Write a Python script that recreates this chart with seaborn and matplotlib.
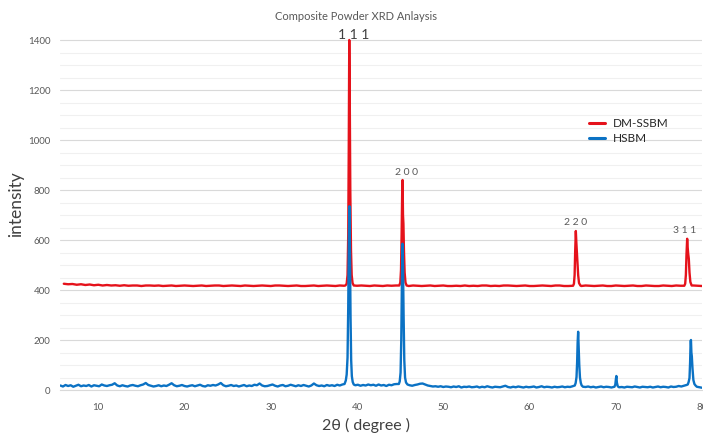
import numpy as np
import pandas as pd
import matplotlib
matplotlib.use("Agg")
import matplotlib.pyplot as plt
from matplotlib.lines import Line2D
from matplotlib.ticker import MultipleLocator
import seaborn as sns

# ---------------------------------------------------------------------------
# Data
# ---------------------------------------------------------------------------
series_names = ["DM-SSBM", "HSBM"]

# DM-SSBM background scan, one reading every 0.5 deg from 6.0 to 80.0 deg
dm_scan_start, dm_scan_step = 6.0, 0.5
dm_scan_counts = [
    425, 423, 424, 421, 423, 420, 422, 419, 421, 418,
    420, 418, 419, 417, 419, 417, 418, 418, 416, 418,
    418, 417, 418, 416, 417, 418, 416, 417, 418, 417,
    416, 417, 418, 416, 417, 418, 418, 416, 417, 418,
    417, 416, 418, 417, 416, 417, 418, 417, 416, 418,
    418, 417, 416, 417, 418, 416, 416, 417, 418, 416,
    417, 418, 417, 416, 418, 417, 416, 418, 417, 418,
    417, 416, 418, 417, 416, 418, 417, 418, 417, 418,
    416, 418, 417, 416, 417, 418, 416, 417, 418, 416,
    416, 417, 416, 418, 416, 417, 416, 418, 418, 416,
    417, 416, 418, 418, 417, 416, 417, 418, 416, 416,
    417, 418, 417, 416, 418, 418, 416, 416, 417, 418,
    416, 418, 417, 416, 417, 418, 416, 416, 418, 417,
    416, 417, 418, 416, 416, 418, 417, 416, 416, 418,
    417, 416, 418, 417, 416, 417, 418, 417, 416,
]
# DM-SSBM reflections: 2θ (deg) and counts across each peak
dm_peak_2theta = [
    38.65, 38.80, 38.90, 38.98, 39.04, 39.10, 39.16, 39.22, 39.30, 39.38, 39.48, 39.62,
    44.90, 45.02, 45.10, 45.17, 45.24, 45.28, 45.33, 45.38, 45.44, 45.52, 45.62, 45.75,
    65.05, 65.15, 65.23, 65.30, 65.37, 65.43, 65.49, 65.56, 65.64, 65.74, 65.90,
    77.95, 78.05, 78.13, 78.20, 78.28, 78.34, 78.40, 78.47, 78.55, 78.65, 78.80,
]
dm_peak_counts = [
    418, 425, 460, 620, 950, 1400, 1150, 800, 560, 460, 428, 418,
    418, 430, 480, 620, 800, 840, 700, 665, 560, 470, 430, 418,
    417, 425, 460, 560, 636, 590, 555, 520, 460, 428, 418,
    417, 425, 460, 540, 605, 570, 545, 525, 470, 432, 418,
]
dm_peak_ranges = [(38.6, 39.7), (44.85, 45.8), (65.0, 65.95), (77.9, 78.85)]

# HSBM background scan, one reading every 0.3 deg from 5.6 to 80.0 deg
hsbm_scan_start, hsbm_scan_step = 5.6, 0.3
hsbm_scan_counts = [
    18, 14, 20, 16, 19, 13, 17, 21, 15, 18,
    16, 20, 14, 19, 17, 15, 22, 18, 16, 19,
    21, 27, 18, 15, 19, 16, 14, 18, 20, 17,
    15, 19, 22, 28, 20, 17, 14, 16, 19, 15,
    18, 16, 21, 27, 19, 15, 17, 20, 16, 14,
    17, 19, 15, 18, 21, 16, 14, 19, 17, 20,
    18, 22, 28, 19, 15, 17, 20, 16, 18, 14,
    17, 20, 15, 18, 16, 21, 19, 26, 18, 15,
    16, 19, 22, 17, 14, 18, 20, 15, 17, 21,
    18, 15, 19, 16, 20, 17, 14, 18, 26, 19,
    16, 18, 15, 20, 17, 19, 16, 21, 18, 22,
    26, 20, 20, 22, 19, 21, 17, 20, 18, 22,
    19, 21, 17, 22, 18, 20, 16, 21, 19, 23,
    24, 20, 20, 22, 18, 19, 17, 20, 22, 25,
    26, 22, 18, 16, 14, 15, 13, 15, 12, 14,
    13, 11, 14, 12, 15, 10, 13, 12, 14, 11,
    12, 14, 10, 13, 11, 15, 12, 10, 13, 12,
    11, 14, 17, 12, 10, 13, 11, 14, 12, 10,
    13, 11, 12, 14, 10, 12, 15, 11, 13, 12,
    10, 13, 11, 12, 14, 11, 13, 12, 15, 20,
    20, 16, 13, 12, 14, 11, 13, 10, 12, 14,
    11, 13, 12, 10, 14, 13, 11, 12, 10, 13,
    12, 11, 14, 12, 10, 13, 12, 11, 13, 10,
    12, 14, 11, 13, 12, 10, 14, 12, 13, 16,
    14, 17, 20, 30, 30, 18, 13, 11, 9,
]
# HSBM reflections: 2θ (deg) and counts across each peak
hsbm_peak_2theta = [
    38.55, 38.70, 38.80, 38.90, 38.98, 39.05, 39.12, 39.18, 39.25, 39.32, 39.40, 39.50, 39.62,
    44.85, 44.95, 45.05, 45.13, 45.20, 45.27, 45.33, 45.40, 45.48, 45.57, 45.68, 45.85,
    65.25, 65.35, 65.45, 65.52, 65.58, 65.64, 65.70, 65.77, 65.85, 65.95, 66.05,
    69.85, 69.95, 70.02, 70.07, 70.13, 70.22, 70.32,
    78.35, 78.45, 78.55, 78.62, 78.68, 78.72, 78.77, 78.82, 78.90, 79.00, 79.12, 79.25,
]
hsbm_peak_counts = [
    24, 38, 62, 130, 330, 600, 735, 560, 290, 120, 55, 32, 22,
    24, 34, 70, 200, 420, 585, 500, 300, 120, 50, 30, 22,
    18, 28, 52, 110, 190, 233, 175, 100, 50, 28, 18,
    13, 22, 45, 56, 30, 16, 12,
    22, 32, 48, 110, 195, 200, 150, 135, 85, 40, 24, 18,
]
hsbm_peak_ranges = [(38.5, 39.7), (44.8, 45.9), (65.2, 66.1), (69.8, 70.35), (78.3, 79.3)]

# Miller indices written over the DM-SSBM reflections
hkl_labels = ["1 1 1", "2 0 0", "2 2 0", "3 1 1"]
hkl_2theta = [39.10, 45.28, 65.37, 78.28]
hkl_counts = [1400, 840, 636, 605]

y_ticks = [0, 200, 400, 600, 800, 1000, 1200, 1400]
x_ticks = [10, 20, 30, 40, 50, 60, 70, 80]

colors = {"DM-SSBM": "#e5121b", "HSBM": "#0b72c4"}


def build_pattern(start, step, scan, peak_x, peak_y, ranges):
    """Combine the background scan with the peak readings, sorted by 2θ."""
    scan_x = np.round(start + step * np.arange(len(scan)), 2)
    scan_y = np.asarray(scan, dtype=float)
    keep = np.ones(len(scan_x), dtype=bool)
    for lo, hi in ranges:
        keep &= ~((scan_x >= lo) & (scan_x <= hi))
    x = np.concatenate([scan_x[keep], peak_x])
    y = np.concatenate([scan_y[keep], peak_y])
    order = np.argsort(x)
    return x[order], y[order]


dm_x, dm_y = build_pattern(dm_scan_start, dm_scan_step, dm_scan_counts,
                           dm_peak_2theta, dm_peak_counts, dm_peak_ranges)
hs_x, hs_y = build_pattern(hsbm_scan_start, hsbm_scan_step, hsbm_scan_counts,
                           hsbm_peak_2theta, hsbm_peak_counts, hsbm_peak_ranges)

df = pd.concat([
    pd.DataFrame({"two_theta": dm_x, "intensity": dm_y, "sample": "DM-SSBM"}),
    pd.DataFrame({"two_theta": hs_x, "intensity": hs_y, "sample": "HSBM"}),
], ignore_index=True)

# ---------------------------------------------------------------------------
# Plot
# ---------------------------------------------------------------------------
sns.set_theme(style="white")
plt.rcParams["font.family"] = ["Lato", "DejaVu Sans"]

W, H = 703, 438
fig, ax = plt.subplots(figsize=(W / 100, H / 100), dpi=100)
fig.subplots_adjust(left=60 / W, right=702 / W, bottom=48 / H, top=(H - 37.5) / H)

sns.lineplot(data=df, x="two_theta", y="intensity", hue="sample",
             hue_order=series_names, palette=colors, estimator=None,
             sort=False, linewidth=1.7, legend=False, ax=ax)

ax.set_xlim(5.56, 80)
ax.set_ylim(0, 1410)
ax.set_xticks(x_ticks)
ax.set_yticks(y_ticks)
ax.yaxis.set_minor_locator(MultipleLocator(50))
ax.grid(which="major", axis="y", color="#d9d9d9", linewidth=0.8)
ax.grid(which="minor", axis="y", color="#f0f0f0", linewidth=0.8)
ax.grid(which="major", axis="x", visible=False)
ax.set_axisbelow(True)
for side in ("top", "right", "left"):
    ax.spines[side].set_visible(False)
ax.spines["bottom"].set_color("#d9d9d9")
ax.spines["bottom"].set_linewidth(0.8)
ax.tick_params(axis="both", which="both", length=0, labelsize=7,
               labelcolor="#595959")
ax.tick_params(axis="y", pad=7)
ax.tick_params(axis="x", pad=9)

ax.set_xlabel("2θ ( degree )", fontsize=11.5, color="#404040")
ax.set_ylabel("intensity", fontsize=12.5, color="#404040")
ax.xaxis.set_label_coords((366 - 60) / 642, -(418 - 390) / 352.5)
ax.yaxis.set_label_coords((24 - 60) / 642, (390 - 204) / 352.5)

fig.text(356 / W, 1 - 17 / H, "Composite Powder XRD Anlaysis", ha="center",
         va="center", fontsize=8, color="#595959")

# Miller index labels
offsets = [(4, -1), (4, 3), (0, 4), (-3, 4)]
sizes = [10, 7.5, 7.5, 7.5]
tcolors = ["#404040", "#595959", "#595959", "#595959"]
for lab, xv, yv, off, fs, tc in zip(hkl_labels, hkl_2theta, hkl_counts,
                                    offsets, sizes, tcolors):
    ax.annotate(lab, xy=(xv, yv), xytext=off, textcoords="offset pixels",
                ha="center", va="bottom", fontsize=fs, color=tc,
                annotation_clip=False)

handles = [Line2D([], [], color=colors[n], linewidth=2.2) for n in series_names]
ax.legend(handles, series_names, loc="upper left",
          bbox_to_anchor=(589 / W, 1 - 118 / H), bbox_transform=fig.transFigure,
          frameon=False, fontsize=8.5, handlelength=1.35, handletextpad=0.7,
          labelspacing=0.33, borderpad=0, borderaxespad=0, labelcolor="#262626")

fig.savefig("out.png", dpi=100)
